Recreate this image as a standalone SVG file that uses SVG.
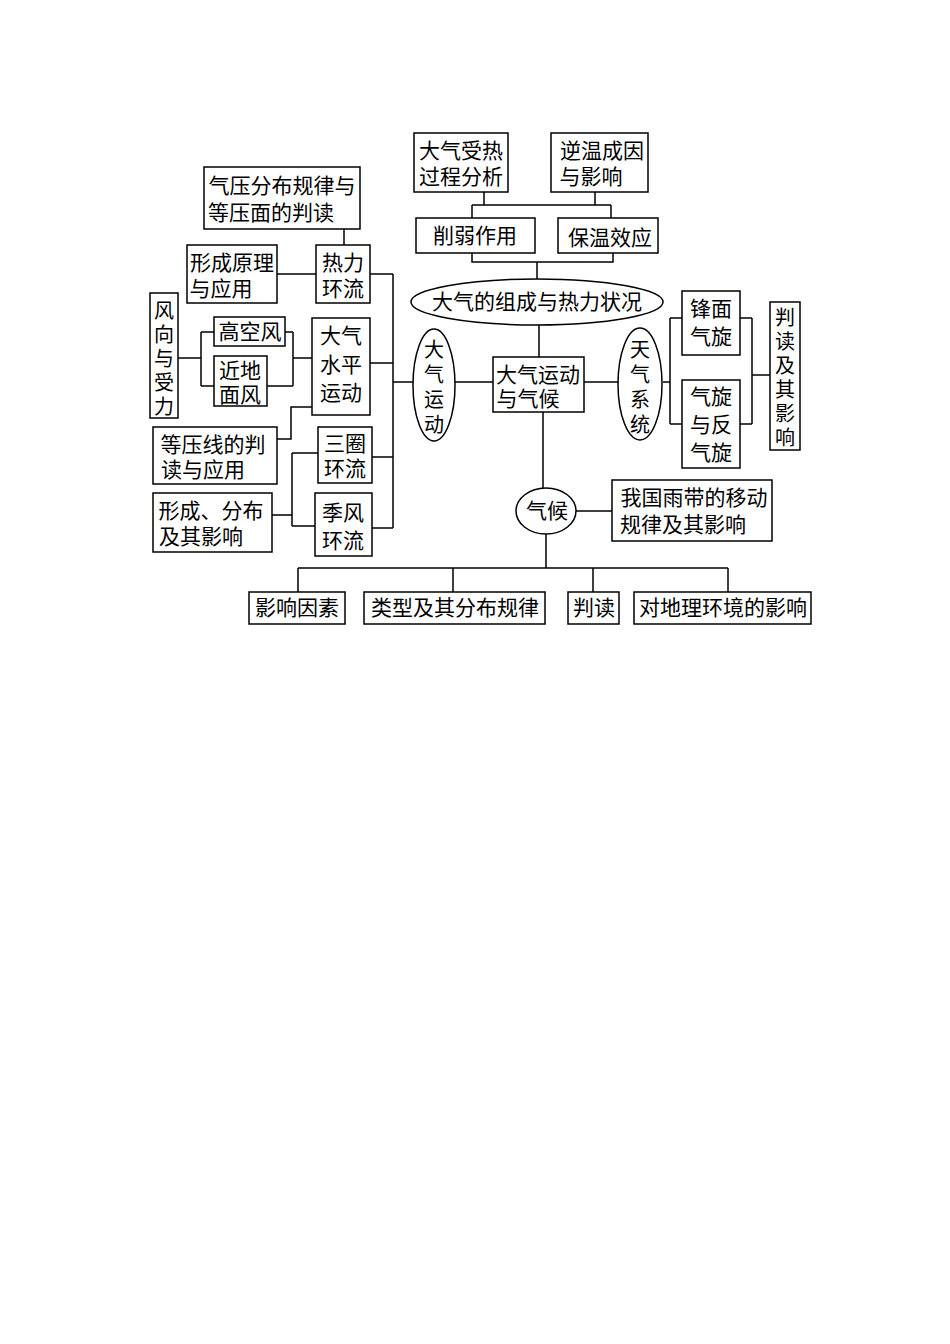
<svg xmlns="http://www.w3.org/2000/svg" width="950" height="1344" viewBox="0 0 950 1344">
<style>
rect,ellipse{fill:#fff;stroke:#000;stroke-width:1.5}
.c path{fill:none;stroke:#000;stroke-width:1.5}
text{font-family:"Noto Sans CJK SC","Liberation Serif",serif;font-size:21px;fill:#000;text-anchor:middle}
.v{font-size:20px}
</style>
<rect x="0" y="0" width="950" height="1344" style="stroke:none"/>
<g class="c">
<path d="M484 192V205M595 192V205M472 205H611M472 205V218M611 205V218"/>
<path d="M472 253V262H613V253M537 262V279"/>
<path d="M539 324V357M455 382H493M413 382H393M393 274V528"/>
<path d="M344 229V245M277 274H316M370 274H393M370 363H393M372 457H393M372 528H393"/>
<path d="M178 358H201M201 332V386M201 332H214M201 386H214M285 332H293M267 386H293M293 332V386M293 358H312"/>
<path d="M277 439H291V407H312"/>
<path d="M272 515H292M292 453V526M292 453H318M292 526H315"/>
<path d="M584 382H618M663 382H670M670 318V424M670 318H682M670 424H682M740 318H752M740 424H752M752 318V424M752 375H770"/>
<path d="M543 412V489M576 511H612M546 534V568M298 568H728M298 568V592M453 568V592M593 568V592M728 568V592"/>
</g>
<g id="n1"><rect x="414" y="133" width="94" height="59"/><text x="461" y="158">大气受热</text><text x="461" y="184">过程分析</text></g>
<g id="n2"><rect x="551" y="133" width="97" height="59"/><text x="602" y="158">逆温成因</text><text x="591" y="184">与影响</text></g>
<g id="n3"><rect x="416" y="218" width="119" height="35"/><text x="475" y="243">削弱作用</text></g>
<g id="n4"><rect x="558" y="218" width="100" height="35"/><text x="610" y="245">保温效应</text></g>
<g id="n5"><ellipse cx="537" cy="302" rx="126" ry="23"/><text x="537" y="309">大气的组成与热力状况</text></g>
<g id="n6"><rect x="493" y="357" width="91" height="55"/><text x="538" y="382">大气运动</text><text x="528" y="406">与气候</text></g>
<g id="n7"><ellipse cx="434" cy="385" rx="21" ry="56"/><text class="v" x="434" y="357">大</text><text class="v" x="434" y="382">气</text><text class="v" x="434" y="407">运</text><text class="v" x="434" y="432">动</text></g>
<g id="n8"><rect x="204" y="167" width="156" height="62"/><text x="282" y="193">气压分布规律与</text><text x="271" y="220">等压面的判读</text></g>
<g id="n9"><rect x="187" y="245" width="90" height="58"/><text x="232" y="270">形成原理</text><text x="221" y="296">与应用</text></g>
<g id="n10"><rect x="316" y="245" width="54" height="58"/><text x="343" y="270">热力</text><text x="343" y="296">环流</text></g>
<g id="n11"><rect x="150" y="293" width="28" height="125"/><text class="v" x="164" y="318">风</text><text class="v" x="164" y="342">向</text><text class="v" x="164" y="366">与</text><text class="v" x="164" y="390">受</text><text class="v" x="164" y="414">力</text></g>
<g id="n12"><rect x="214" y="317" width="71" height="29"/><text x="250" y="339">高空风</text></g>
<g id="n13"><rect x="214" y="356" width="53" height="50"/><text x="240" y="378">近地</text><text x="240" y="402">面风</text></g>
<g id="n14"><rect x="312" y="318" width="58" height="97"/><text x="341" y="343">大气</text><text x="341" y="372">水平</text><text x="341" y="400">运动</text></g>
<g id="n15"><rect x="153" y="427" width="124" height="57"/><text x="213" y="452">等压线的判</text><text x="203" y="477">读与应用</text></g>
<g id="n16"><rect x="318" y="427" width="54" height="56"/><text x="345" y="451">三圈</text><text x="345" y="476">环流</text></g>
<g id="n17"><rect x="153" y="493" width="119" height="59"/><text x="211" y="518">形成、分布</text><text x="201" y="544">及其影响</text></g>
<g id="n18"><rect x="315" y="493" width="57" height="63"/><text x="343" y="520">季风</text><text x="343" y="548">环流</text></g>
<g id="n19"><ellipse cx="640" cy="384" rx="22" ry="56"/><text class="v" x="640" y="357">天</text><text class="v" x="640" y="382">气</text><text class="v" x="640" y="407">系</text><text class="v" x="640" y="432">统</text></g>
<g id="n20"><rect x="682" y="291" width="58" height="64"/><text x="711" y="316">锋面</text><text x="711" y="344">气旋</text></g>
<g id="n21"><rect x="682" y="380" width="58" height="88"/><text x="711" y="404">气旋</text><text x="711" y="432">与反</text><text x="711" y="460">气旋</text></g>
<g id="n22"><rect x="770" y="302" width="30" height="148"/><text class="v" x="785" y="325">判</text><text class="v" x="785" y="349">读</text><text class="v" x="785" y="373">及</text><text class="v" x="785" y="397">其</text><text class="v" x="785" y="421">影</text><text class="v" x="785" y="445">响</text></g>
<g id="n23"><ellipse cx="546" cy="511" rx="30" ry="23"/><text x="547" y="518">气候</text></g>
<g id="n24"><rect x="612" y="480" width="160" height="61"/><text x="694" y="505">我国雨带的移动</text><text x="683" y="532">规律及其影响</text></g>
<g id="n25"><rect x="249" y="592" width="96" height="32"/><text x="297" y="615">影响因素</text></g>
<g id="n26"><rect x="364" y="592" width="181" height="32"/><text x="455" y="615">类型及其分布规律</text></g>
<g id="n27"><rect x="568" y="592" width="51" height="32"/><text x="594" y="615">判读</text></g>
<g id="n28"><rect x="634" y="592" width="177" height="32"/><text x="723" y="615">对地理环境的影响</text></g>
</svg>
